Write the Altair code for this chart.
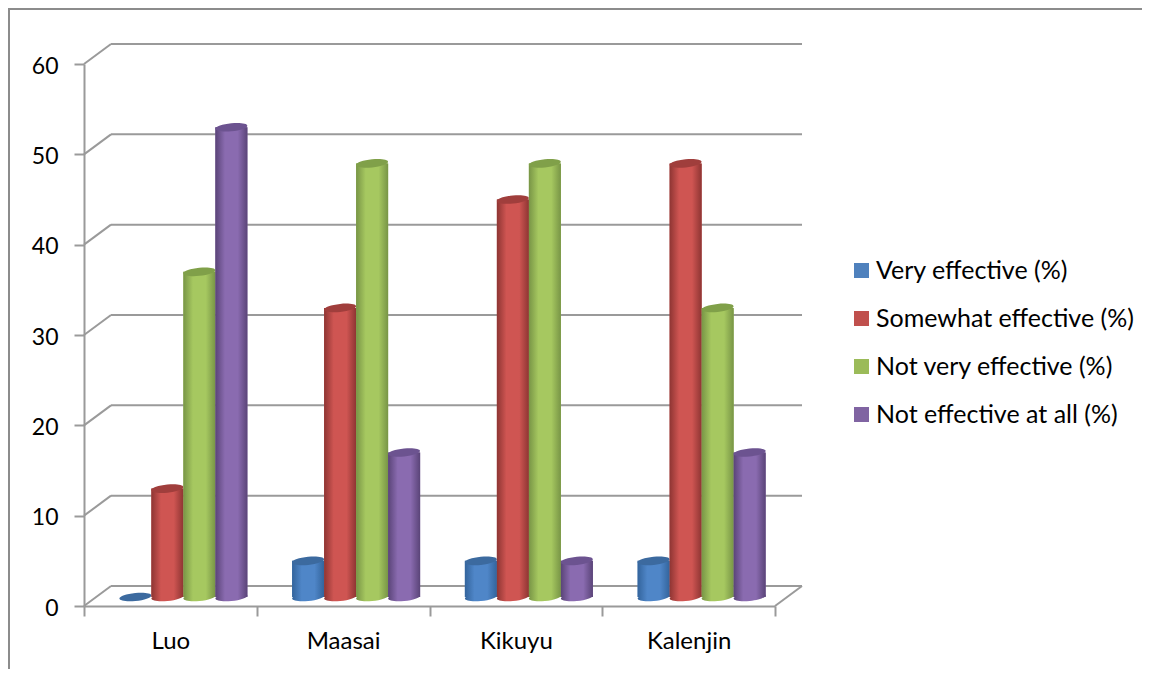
import altair as alt
import pandas as pd

categories = ["Luo", "Maasai", "Kikuyu", "Kalenjin"]
series = ["Very effective (%)", "Somewhat effective (%)", "Not very effective (%)", "Not effective at all (%)"]
very = [0, 4, 4, 4]
somewhat = [12, 32, 44, 48]
not_very = [36, 48, 48, 32]
not_at_all = [52, 16, 4, 16]
y_ticks = [0, 10, 20, 30, 40, 50, 60]
flat = ["#4f81bd", "#c0504d", "#9bbb59", "#8064a2"]
edge = ["#33649c", "#8e3533", "#789546", "#5a4478"]
mid = ["#4f86c8", "#cf5552", "#a6c860", "#8a6bb0"]
cap = ["#3c6a9f", "#a03e3c", "#80a049", "#6c5390"]

W, H = 691, 542
PX = W / 4            # pixels per category
PY = H / 60           # pixels per value unit
DX = 27 / PX          # depth of the floor in x units
DY = 20 / PY          # depth of the floor in value units
BAR = 32 / PX
SHIFT_X = 13 / PX
SHIFT_Y = 9 / PY

rows = []
for k, (s, vals) in enumerate(zip(series, [very, somewhat, not_very, not_at_all])):
    for i, (c, v) in enumerate(zip(categories, vals)):
        cx = i + 0.5 + SHIFT_X + (k - 1.5) * BAR
        rows.append(dict(cat=c, series=s, k=k, value=v, x0=cx - BAR / 2, x1=cx + BAR / 2,
                         cx=cx, base=SHIFT_Y, top=v + SHIFT_Y))
df = pd.DataFrame(rows)

# back wall and floor edges
lines = []
for t in y_ticks:
    lines += [dict(id=f"b{t}", x=DX, y=t + DY), dict(id=f"b{t}", x=4 + DX, y=t + DY),
              dict(id=f"d{t}", x=0, y=t), dict(id=f"d{t}", x=DX, y=t + DY)]
lines += [dict(id="r", x=4, y=0), dict(id="r", x=4 + DX, y=DY)]
lines_df = pd.DataFrame(lines)

FONT = "Lato"
GRAY = "#9a9a9a"
xs = alt.Scale(domain=[0, 4], nice=False, zero=False)
ys = alt.Scale(domain=[0, 60], nice=False, zero=False)
x_vals = [0, .5, 1, 1.5, 2, 2.5, 3, 3.5, 4]
names = "[" + ",".join(f"'{c}'" for c in categories) + "]"

x_axis = alt.Axis(values=x_vals, title=None, grid=False, domainColor=GRAY, domainWidth=2,
                  tickColor=GRAY, tickWidth=2, tickSize=10,
                  tickOpacity={"condition": {"test": "datum.value % 1 != 0", "value": 0}, "value": 1},
                  labelExpr=f"datum.value % 1 != 0 ? {names}[floor(datum.value)] : ''",
                  labelFont=FONT, labelFontSize=24, labelColor="#000000", labelPadding=13,
                  labelOverlap=False, labelFlush=False, labelBound=False, labelAngle=0)
y_axis = alt.Axis(values=y_ticks, title=None, grid=False, domainColor=GRAY, domainWidth=2,
                  tickColor=GRAY, tickWidth=2, tickSize=10,
                  labelFont=FONT, labelFontSize=23, labelColor="#000000", labelPadding=16, labelOffset=2,
                  labelOverlap=False, labelBound=False, labelFlush=False)
X = lambda f: alt.X(f, scale=xs, axis=x_axis)
Y = lambda f: alt.Y(f, scale=ys, axis=y_axis)

wall = alt.Chart(lines_df).mark_line(color=GRAY, strokeWidth=2, clip=False).encode(
    x=X("x:Q"), y=Y("y:Q"), detail="id:N",
)

legend = alt.Legend(orient="none", legendX=765, legendY=194, title=None, symbolType="square",
                    symbolSize=225, symbolStrokeWidth=0, labelFont=FONT, labelFontSize=25,
                    labelColor="#000000", labelOffset=2, rowPadding=22, labelLimit=400)
base_bars = alt.Chart(df[df.value > 0]).mark_rect(clip=False).encode(
    x=X("x0:Q"), x2="x1:Q", y=Y("base:Q"), y2="top:Q",
    color=alt.Color("series:N", scale=alt.Scale(domain=series, range=flat), sort=series, legend=legend),
)

ELLIPSE = "M-1,0.1A1,0.25,-6,1,1,1,-0.1A1,0.25,-6,1,1,-1,0.1Z"
layers = [wall, base_bars]
for k, s in enumerate(series):
    sub = df[df.k == k]
    pos = sub[sub.value > 0]
    grad = alt.Gradient(gradient="linear", x1=0, x2=1, y1=0, y2=0, stops=[
        alt.GradientStop(color=edge[k], offset=0),
        alt.GradientStop(color=mid[k], offset=0.3),
        alt.GradientStop(color=mid[k], offset=0.7),
        alt.GradientStop(color=edge[k], offset=1),
    ])
    layers.append(alt.Chart(pos).mark_point(shape=ELLIPSE, size=BAR * PX * BAR * PX, filled=True, fill=grad,
                                            opacity=1, strokeWidth=0, clip=False).encode(
        x=X("cx:Q"), y=Y("base:Q")))
    layers.append(alt.Chart(pos).mark_rect(fill=grad, clip=False).encode(
        x=X("x0:Q"), x2="x1:Q", y=Y("base:Q"), y2="top:Q"))
    layers.append(alt.Chart(sub).mark_point(shape=ELLIPSE, size=BAR * PX * BAR * PX, filled=True, fill=cap[k],
                                            opacity=1, strokeWidth=0, clip=False).encode(
        x=X("cx:Q"), y=Y("top:Q")))

# outer frame of the picture
frame_df = pd.DataFrame({"k": [0]})
frame_top = alt.Chart(frame_df).mark_rule(color="#8c8c8c", strokeWidth=2).encode(
    x=alt.value(-76), x2=alt.value(1100), y=alt.value(-55))
frame_left = alt.Chart(frame_df).mark_rule(color="#8c8c8c", strokeWidth=2).encode(
    x=alt.value(-75), y=alt.value(-56), y2=alt.value(620))
layers += [frame_top, frame_left]

chart = alt.layer(*layers).resolve_scale(color="independent").properties(
    width=W, height=H, autosize=alt.AutoSizeParams(type="none"), background="#ffffff",
    padding={"left": 76, "top": 56, "right": 367, "bottom": 63},
).configure_view(stroke=None)

chart.save("out.html", embed_options={"renderer": "svg", "actions": False})
